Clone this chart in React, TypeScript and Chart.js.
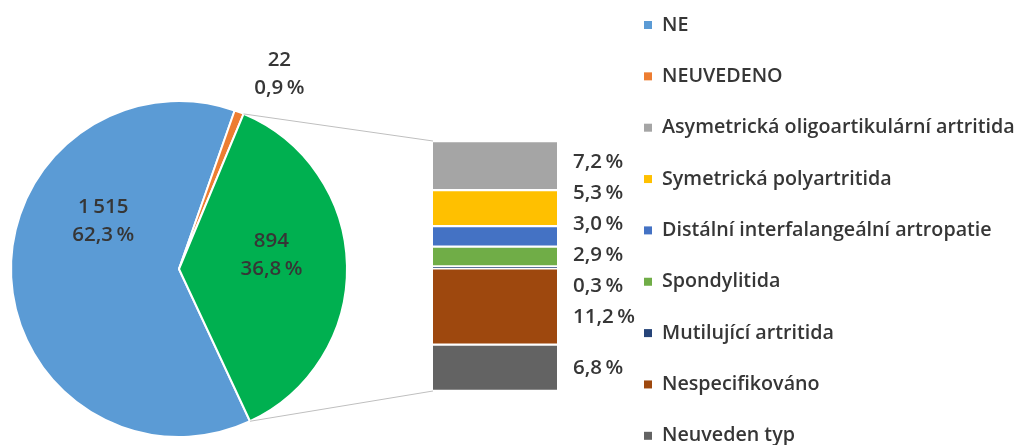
import React, { useEffect, useRef } from 'react';
import { Chart, registerables } from 'chart.js';

Chart.register(...registerables);

const W = 1018;
const H = 445;

// Main pie
const mainLabels = ['NE', 'NEUVEDENO', 'ANO'];
const mainValues = [1515, 22, 894];
const mainColors = ['#5B9BD5', '#ED7D31', '#00B050'];

// Breakdown bar (percent of all patients)
const subLabels = [
  'Asymetrická oligoartikulární artritida',
  'Symetrická polyartritida',
  'Distální interfalangeální artropatie',
  'Spondylitida',
  'Mutilující artritida',
  'Nespecifikováno',
  'Neuveden typ',
];
const subValues = [7.2, 5.3, 3.0, 2.9, 0.3, 11.2, 6.8];
const subColors = ['#A5A5A5', '#FFC000', '#4472C4', '#70AD47', '#264478', '#9E480E', '#636363'];

// Legend shows first two pie categories, then the breakdown
const legendLabels = [mainLabels[0], mainLabels[1], ...subLabels];
const legendColors = [mainColors[0], mainColors[1], ...subColors];

const FONT = '"Open Sans", "Noto Sans", sans-serif';
const TEXT = '#363636';
const SP = '\u2009';

const fmtInt = (v: number) => String(v).replace(/\B(?=(\d{3})+(?!\d))/g, SP);
const fmtPct = (v: number) => v.toFixed(1).replace('.', ',') + SP + '%';

function spread(ys: number[], gap: number) {
  const pos = ys.slice();
  for (let it = 0; it < 500; it++) {
    let moved = false;
    for (let i = 1; i < pos.length; i++) {
      const d = pos[i] - pos[i - 1];
      if (d < gap - 0.01) {
        const m = (gap - d) / 2;
        pos[i - 1] -= m;
        pos[i] += m;
        moved = true;
      }
    }
    if (!moved) break;
  }
  return pos;
}

// polar anchors for pie labels: [radius fraction, degrees clockwise from top]
const pieLabelAnchors: [number, number][] = [
  [0.532, 302],
  [1.307, 27.2],
  [0.556, 81.7],
];

export default function App() {
  const pieRef = useRef<HTMLCanvasElement>(null);
  const barRef = useRef<HTMLCanvasElement>(null);

  useEffect(() => {
    document.body.style.margin = '0';
    const total = mainValues.reduce((a, b) => a + b, 0);
    const subTotal = subValues.reduce((a, b) => a + b, 0);

    const pieLabelsPlugin = {
      id: 'pieLabels',
      afterDraw(chart: any) {
        const ctx = chart.ctx;
        const meta = chart.getDatasetMeta(0);
        ctx.save();
        ctx.font = `600 20.5px ${FONT}`;
        ctx.fillStyle = TEXT;
        ctx.textAlign = 'center';
        ctx.textBaseline = 'middle';
        meta.data.forEach((arc: any, i: number) => {
          const p = arc.getProps(['x', 'y', 'outerRadius'], true);
          const [rf, deg] = pieLabelAnchors[i];
          const a = (deg * Math.PI) / 180;
          const cx = p.x + rf * p.outerRadius * Math.sin(a);
          const cy = p.y - rf * p.outerRadius * Math.cos(a);
          ctx.fillText(fmtInt(mainValues[i]), cx, cy - 14);
          ctx.fillText(fmtPct((mainValues[i] / total) * 100), cx, cy + 14);
        });
        ctx.restore();
      },
    };

    const pie = new Chart(pieRef.current!, {
      type: 'pie',
      data: {
        labels: mainLabels,
        datasets: [
          {
            data: mainValues,
            backgroundColor: mainColors,
            borderColor: '#FFFFFF',
            borderWidth: 2,
          },
        ],
      },
      options: {
        responsive: false,
        animation: false,
        rotation: 155,
        layout: { padding: { left: 10, top: 100, right: W - 348, bottom: H - 438 } },
        plugins: { legend: { display: false }, tooltip: { enabled: false } },
      },
      plugins: [pieLabelsPlugin],
    });

    const overlayPlugin = {
      id: 'overlay',
      afterDraw(chart: any) {
        const ctx = chart.ctx;
        // connectors from "ANO" slice edges to the bar
        const arc: any = pie.getDatasetMeta(0).data[2];
        const p = arc.getProps(['x', 'y', 'startAngle', 'endAngle', 'outerRadius'], true);
        const yS = chart.scales.y;
        const el0: any = chart.getDatasetMeta(0).data[0];
        const barLeft = el0.x - el0.width / 2;
        const barRight = el0.x + el0.width / 2;
        const barTop = yS.getPixelForValue(0);
        const barBottom = yS.getPixelForValue(subTotal);
        ctx.save();
        ctx.strokeStyle = '#BFBFBF';
        ctx.lineWidth = 1;
        ctx.beginPath();
        ctx.moveTo(p.x + p.outerRadius * Math.cos(p.startAngle), p.y + p.outerRadius * Math.sin(p.startAngle));
        ctx.lineTo(barLeft, barTop);
        ctx.moveTo(p.x + p.outerRadius * Math.cos(p.endAngle), p.y + p.outerRadius * Math.sin(p.endAngle));
        ctx.lineTo(barLeft, barBottom);
        ctx.stroke();

        // bar value labels
        const centers = subValues.map((_, i) => {
          const el: any = chart.getDatasetMeta(i).data[0];
          return (el.y + el.base) / 2;
        });
        const ys = spread(centers, 31);
        ctx.font = `600 20.5px ${FONT}`;
        ctx.fillStyle = TEXT;
        ctx.textAlign = 'left';
        ctx.textBaseline = 'middle';
        ys.forEach((y, i) => ctx.fillText(fmtPct(subValues[i]), barRight + 16, y));

        // legend
        const lx = 644;
        const ly0 = 25;
        const step = 51.35;
        ctx.font = `600 19.7px ${FONT}`;
        legendLabels.forEach((lab, i) => {
          const y = ly0 + i * step;
          ctx.fillStyle = legendColors[i];
          ctx.fillRect(lx, y - 4, 8, 8);
          ctx.fillStyle = TEXT;
          ctx.fillText(lab, lx + 18, y);
        });
        ctx.restore();
      },
    };

    const bar = new Chart(barRef.current!, {
      type: 'bar',
      data: {
        labels: [''],
        datasets: subLabels.map((lab, i) => ({
          label: lab,
          data: [subValues[i]],
          backgroundColor: subColors[i],
          borderColor: '#FFFFFF',
          borderWidth: { top: 1.5, bottom: 1.5, left: 0, right: 0 },
          borderSkipped: false,
          barPercentage: 1,
          categoryPercentage: 1,
        })),
      },
      options: {
        responsive: false,
        animation: false,
        layout: { padding: { left: 433, right: W - 557, top: 141, bottom: H - 391 } },
        scales: {
          x: { display: false, stacked: true },
          y: { display: false, stacked: true, reverse: true, min: 0, max: subTotal },
        },
        plugins: { legend: { display: false }, tooltip: { enabled: false } },
      },
      plugins: [overlayPlugin],
    });

    return () => {
      bar.destroy();
      pie.destroy();
    };
  }, []);

  return (
    <div style={{ position: 'relative', width: W, height: H, overflow: 'hidden', background: '#FFFFFF' }}>
      <canvas ref={pieRef} width={W} height={H} style={{ position: 'absolute', left: 0, top: 0 }} />
      <canvas ref={barRef} width={W} height={H} style={{ position: 'absolute', left: 0, top: 0 }} />
    </div>
  );
}
